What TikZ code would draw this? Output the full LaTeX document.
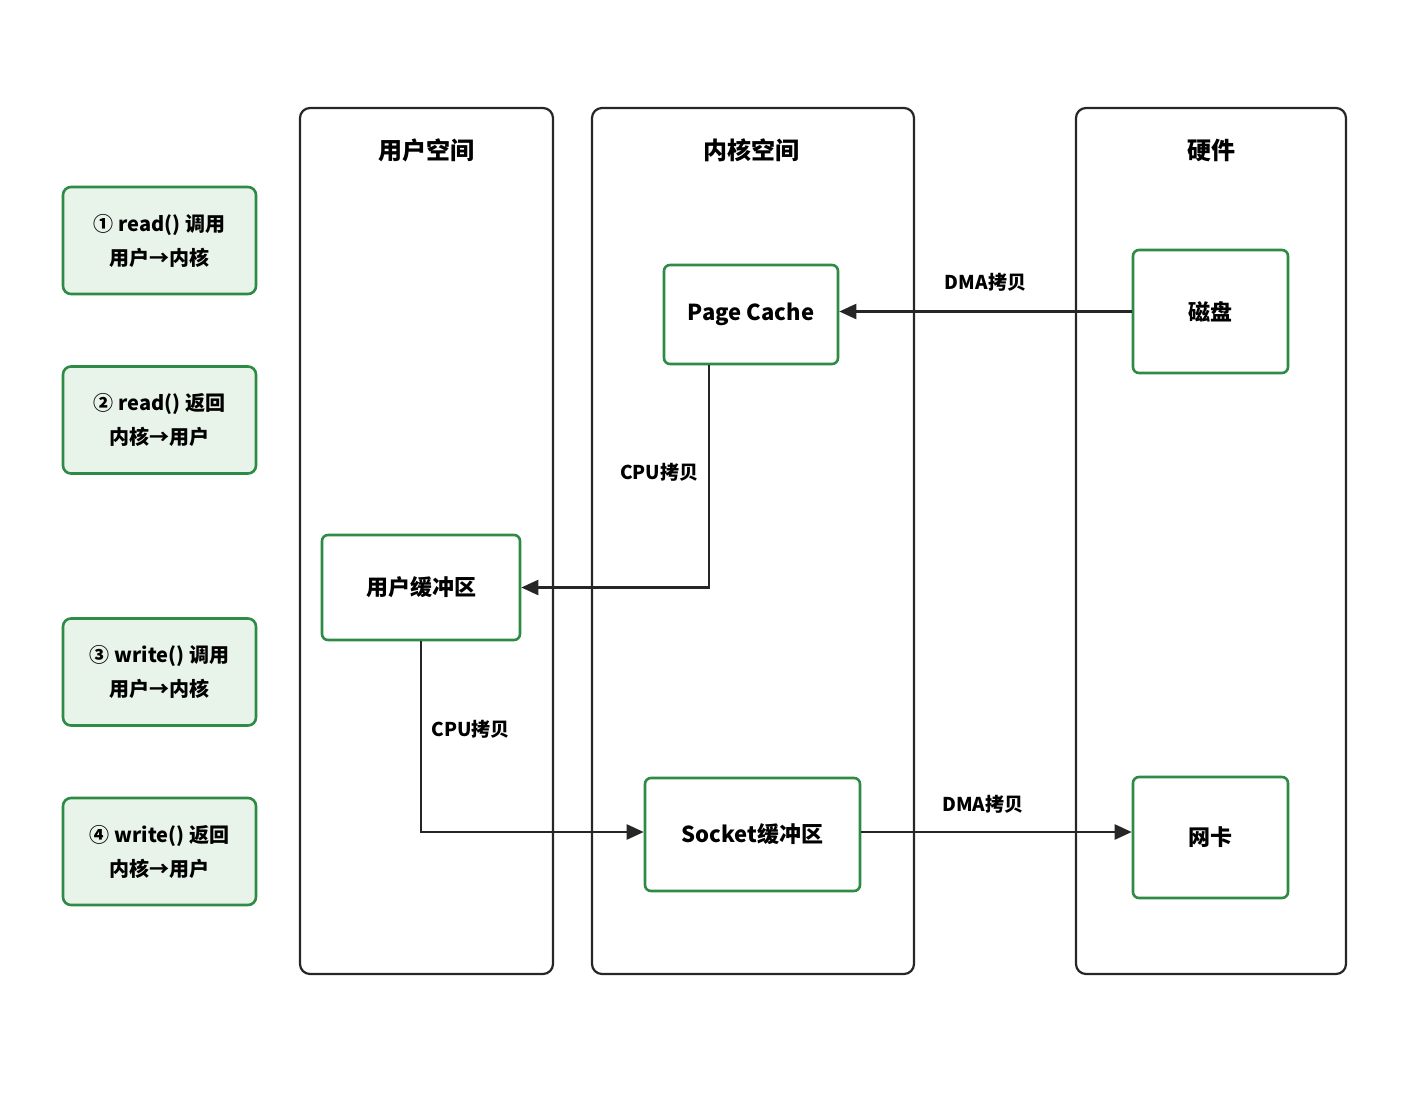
\documentclass[tikz,border=0pt]{standalone}
\usepackage{fontspec}
\setmainfont{Noto Sans CJK SC}
\usetikzlibrary{positioning,calc,arrows.meta}
\definecolor{boxgreen}{HTML}{2E8B45}
\definecolor{stepfill}{HTML}{E8F3EA}
\begin{document}
\begin{tikzpicture}[x=1pt, y=-1pt,
    lane/.style={draw=black!85, line width=2.2pt, rounded corners=10pt},
    head/.style={font=\fontsize{24}{28}\selectfont\bfseries},
    stepbox/.style={draw=boxgreen, line width=2.6pt, rounded corners=8pt, fill=stepfill,
        minimum width=193pt, minimum height=107pt, align=center,
        font=\fontsize{20}{34}\selectfont\bfseries},
    buf/.style={draw=boxgreen, line width=2.6pt, rounded corners=6pt, fill=white,
        align=center, font=\fontsize{22}{26}\selectfont\bfseries},
    lbl/.style={font=\fontsize{19}{22}\selectfont\bfseries},
    flow/.style={-{Triangle[length=17pt,width=15pt]}, line width=2.4pt, draw=black!85}]
  \useasboundingbox (0,0) rectangle (1422,1106);

  %lanes
  \draw[lane] (300,108) rectangle (553,974);
  \draw[lane] (592,108) rectangle (914,974);
  \draw[lane] (1076,108) rectangle (1346,974);
  \node[head] (hu) at (426,150) {用户空间};
  \node[head] (hk) at (751,150) {内核空间};
  \node[head] (hh) at (1211,150) {硬件};

  %steps
  \node[stepbox] (s1) at (159.5,240.5) {① read() 调用\\用户→内核};
  \node[stepbox] (s2) at (159.5,420) {② read() 返回\\内核→用户};
  \node[stepbox] (s3) at (159.5,672) {③ write() 调用\\用户→内核};
  \node[stepbox] (s4) at (159.5,851.5) {④ write() 返回\\内核→用户};

  %buffers
  \node[buf, minimum width=174pt, minimum height=99pt] (pc) at (751,314.5) {Page Cache};
  \node[buf, minimum width=155pt, minimum height=123pt] (disk) at (1210.5,311.5) {磁盘};
  \node[buf, minimum width=198pt, minimum height=105pt] (ub) at (421,587.5) {用户缓冲区};
  \node[buf, minimum width=215pt, minimum height=113pt] (sb) at (752.5,834.5) {Socket缓冲区};
  \node[buf, minimum width=155pt, minimum height=121pt] (nic) at (1210.5,837.5) {网卡};

  %copies
  \draw[flow] (disk.west) -- node[lbl, above=16pt, pos=0.5] {DMA拷贝} (pc.east |- disk.west);
  \draw[flow] (pc.south -| 709,0) |- node[lbl, pos=0.24, left=6pt] {CPU拷贝} (ub.east);
  \draw[flow] (ub.south) |- node[lbl, pos=0.23, right=6pt] {CPU拷贝} (sb.west |- 0,832);
  \draw[flow] (sb.east |- 0,832) -- node[lbl, above=14pt, pos=0.45] {DMA拷贝} (nic.west |- 0,832);
\end{tikzpicture}
\end{document}
